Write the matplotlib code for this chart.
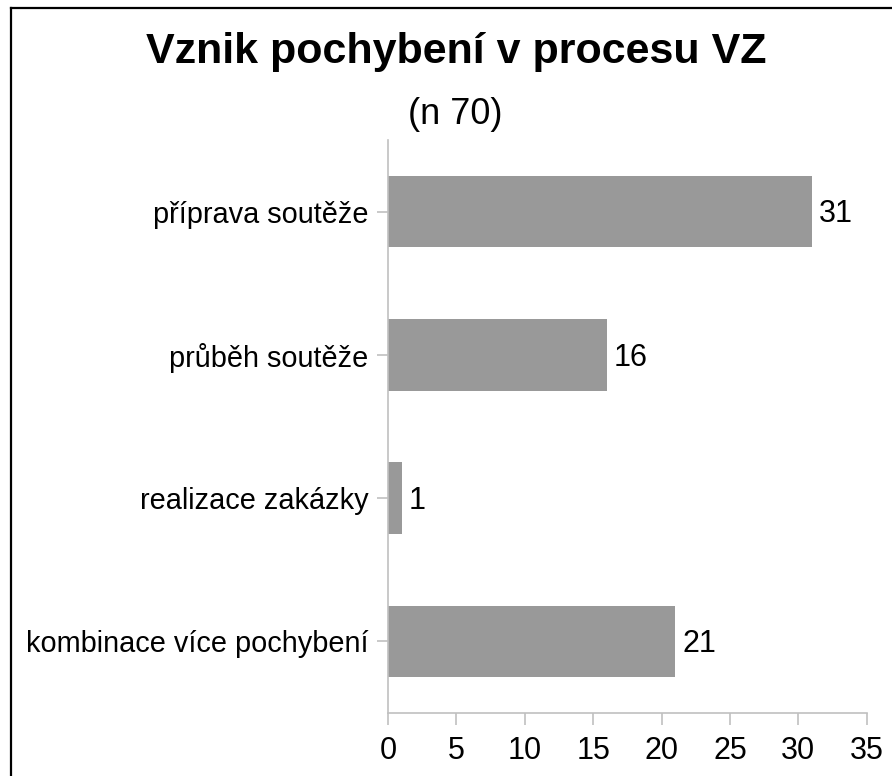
import matplotlib.pyplot as plt
from matplotlib.lines import Line2D

# ================================================================
# Data
# ================================================================
categories = ['příprava soutěže', 'průběh soutěže', 'realizace zakázky',
              'kombinace více pochybení']
counts = [31, 16, 1, 21]
x_ticks = [0, 5, 10, 15, 20, 25, 30, 35]

title = 'Vznik pochybení v procesu VZ'
subtitle = '(n 70)'

plt.rcParams['font.family'] = ['Liberation Sans', 'DejaVu Sans']

W, H = 892, 776
fig = plt.figure(figsize=(W / 100, H / 100), dpi=100)
fig.patch.set_facecolor('white')

# plot area (pixel positions converted to figure fractions)
ax = fig.add_axes([388 / W, 1 - 713 / H, (866.7 - 388) / W, (713 - 140) / H])

y_pos = list(range(len(categories)))
ax.barh(y_pos, counts, height=0.5, color='#999999')
ax.set_ylim(len(categories) - 0.5, -0.5)
ax.set_xlim(0, 35)

ax.set_yticks(y_pos)
ax.set_yticklabels(categories, fontsize=20.8)
ax.set_xticks(x_ticks)
ax.set_xticklabels([str(t) for t in x_ticks], fontsize=22)

# data labels next to bars
for y, v in zip(y_pos, counts):
    ax.annotate(str(v), xy=(v, y), xytext=(5, -2), textcoords='offset points',
                va='center', ha='left', fontsize=22)

# axes styling
for side in ['top', 'right']:
    ax.spines[side].set_visible(False)
for side in ['left', 'bottom']:
    ax.spines[side].set_color('#c0c0c0')
    ax.spines[side].set_linewidth(1.2)
ax.tick_params(axis='x', length=8.5, width=1.2, color='#c0c0c0', pad=8)
ax.tick_params(axis='y', length=8, width=1.2, color='#c0c0c0', pad=6)

# titles
fig.text(456 / W, 1 - 52 / H, title, ha='center', va='center',
         fontsize=31, fontweight='bold')
fig.text(455 / W, 1 - 115 / H, subtitle, ha='center', va='center',
         fontsize=26)

# chart frame (top and left edges visible)
fig.add_artist(Line2D([11 / W, 1.0], [1 - 8 / H, 1 - 8 / H],
                      transform=fig.transFigure, color='black', linewidth=1.6))
fig.add_artist(Line2D([11 / W, 11 / W], [0.0, 1 - 8 / H],
                      transform=fig.transFigure, color='black', linewidth=1.6))

fig.savefig('out.png', dpi=100)
